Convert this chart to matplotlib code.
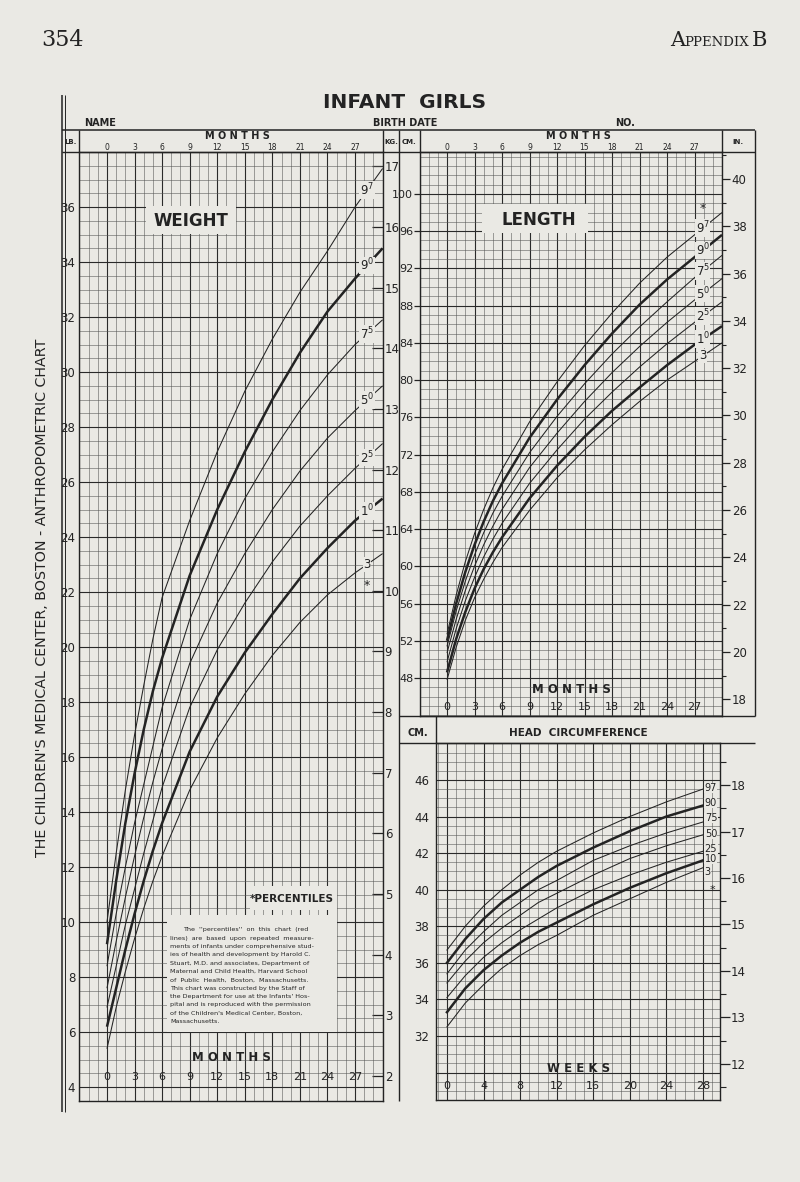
import numpy as np
import matplotlib.pyplot as plt
from matplotlib.patches import Rectangle
from matplotlib.ticker import MultipleLocator

plt.rcParams['font.family'] = ['DejaVu Sans']
plt.rcParams['mathtext.default'] = 'regular'

# percentile curves
pcts = [3, 10, 25, 50, 75, 90, 97]

# weight in lb by age in months
wt_age = [0, 1, 2, 3, 4, 5, 6, 9, 12, 15, 18, 21, 24, 27, 30]
wt_p3 = [5.4, 6.9, 8.2, 9.4, 10.5, 11.5, 12.4, 14.8, 16.7, 18.3, 19.7, 20.9, 21.9, 22.7, 23.4]
wt_p10 = [6.2, 7.6, 9.0, 10.3, 11.5, 12.6, 13.6, 16.2, 18.2, 19.8, 21.2, 22.5, 23.6, 24.6, 25.4]
wt_p25 = [6.9, 8.4, 9.9, 11.2, 12.5, 13.7, 14.9, 17.8, 19.9, 21.6, 23.1, 24.4, 25.5, 26.5, 27.4]
wt_p50 = [7.6, 9.3, 10.9, 12.4, 13.8, 15.1, 16.3, 19.4, 21.6, 23.4, 25.0, 26.4, 27.6, 28.6, 29.5]
wt_p75 = [8.4, 10.3, 12.0, 13.6, 15.0, 16.4, 17.8, 21.0, 23.4, 25.4, 27.1, 28.6, 29.9, 31.0, 31.9]
wt_p90 = [9.2, 11.5, 13.6, 15.4, 17.0, 18.4, 19.6, 22.6, 25.0, 27.1, 29.0, 30.7, 32.2, 33.4, 34.5]
wt_p97 = [10.0, 12.5, 14.8, 16.8, 18.6, 20.3, 21.8, 24.6, 27.1, 29.3, 31.2, 32.9, 34.4, 36.0, 37.4]
wt = [wt_p3, wt_p10, wt_p25, wt_p50, wt_p75, wt_p90, wt_p97]

# length in cm by age in months
ln_age = [0, 1, 2, 3, 4, 5, 6, 9, 12, 15, 18, 21, 24, 27, 30]
ln_p3 = [47.8, 51.3, 54.2, 56.6, 58.6, 60.4, 62.0, 66.0, 69.5, 72.5, 75.2, 77.7, 80.0, 82.0, 84.0]
ln_p10 = [48.6, 52.2, 55.1, 57.6, 59.7, 61.5, 63.1, 67.3, 70.8, 73.9, 76.7, 79.2, 81.6, 83.8, 85.8]
ln_p25 = [49.7, 53.3, 56.3, 58.8, 61.0, 62.9, 64.6, 68.9, 72.5, 75.8, 78.7, 81.4, 83.9, 86.2, 88.4]
ln_p50 = [50.7, 54.3, 57.4, 60.0, 62.3, 64.3, 66.1, 70.6, 74.3, 77.7, 80.8, 83.6, 86.2, 88.6, 90.9]
ln_p75 = [51.4, 55.2, 58.4, 61.2, 63.6, 65.7, 67.5, 72.2, 76.1, 79.6, 82.8, 85.7, 88.4, 91.0, 93.4]
ln_p90 = [52.0, 56.0, 59.4, 62.3, 64.8, 67.0, 68.9, 73.8, 77.9, 81.6, 85.0, 88.1, 90.8, 93.2, 95.6]
ln_p97 = [52.7, 56.9, 60.5, 63.5, 66.1, 68.4, 70.4, 75.5, 79.8, 83.7, 87.2, 90.4, 93.2, 95.6, 98.0]
ln = [ln_p3, ln_p10, ln_p25, ln_p50, ln_p75, ln_p90, ln_p97]

# head circumference in cm by age in weeks
hc_age = [0, 2, 4, 6, 8, 10, 12, 16, 20, 24, 28]
hc_p3 = [32.5, 33.8, 34.8, 35.7, 36.4, 37.0, 37.5, 38.6, 39.5, 40.4, 41.2]
hc_p10 = [33.3, 34.6, 35.6, 36.4, 37.1, 37.7, 38.2, 39.2, 40.1, 40.9, 41.6]
hc_p25 = [34.1, 35.3, 36.3, 37.1, 37.8, 38.4, 39.0, 40.0, 40.8, 41.5, 42.1]
hc_p50 = [34.9, 36.1, 37.1, 37.9, 38.6, 39.3, 39.8, 40.8, 41.7, 42.4, 43.0]
hc_p75 = [35.4, 36.7, 37.7, 38.6, 39.3, 40.0, 40.5, 41.6, 42.4, 43.1, 43.7]
hc_p90 = [36.0, 37.3, 38.4, 39.3, 40.0, 40.7, 41.3, 42.3, 43.2, 44.0, 44.6]
hc_p97 = [36.7, 38.0, 39.1, 40.0, 40.8, 41.5, 42.1, 43.1, 44.0, 44.8, 45.5]
hc = [hc_p3, hc_p10, hc_p25, hc_p50, hc_p75, hc_p90, hc_p97]
# where the printed percentile numbers sit at the right of the head chart (cm)
hc_label_at = [40.97, 41.68, 42.23, 43.05, 43.92, 44.74, 45.56]

sup_labels = ['3', '1$^{0}$', '2$^{5}$', '5$^{0}$', '7$^{5}$', '9$^{0}$', '9$^{7}$']
month_ticks = list(range(0, 28, 3))
week_ticks = list(range(0, 29, 4))

BG = '#eae9e4'
INK = '#232323'
W, H = 800, 1182

fig = plt.figure(figsize=(8, 11.82), dpi=100)
fig.patch.set_facecolor(BG)


def box(x0, y0, x1, y1, **kw):
    return fig.add_axes([x0 / W, 1 - y1 / H, (x1 - x0) / W, (y1 - y0) / H], **kw)


def paper(ax, xmin, ymin):
    ax.set_facecolor(BG)
    ax.xaxis.set_minor_locator(MultipleLocator(xmin))
    ax.yaxis.set_minor_locator(MultipleLocator(ymin))
    ax.grid(which='major', color='#2a2a2a', lw=0.8)
    ax.grid(which='minor', color='#555555', lw=0.38)
    ax.set_axisbelow(True)
    for s in ax.spines.values():
        s.set_color(INK)
        s.set_linewidth(1.0)
    ax.tick_params(which='both', bottom=False, top=False, labelbottom=False)
    ax.tick_params(which='minor', left=False, right=False)


def curves(ax, age, series):
    for p, vals in zip(pcts, series):
        lw = 1.8 if p in (10, 90) else 0.75
        ax.plot(age, vals, color=INK, lw=lw, zorder=3, solid_capstyle='butt')


def top_months(ax, ypix_from_top):
    frac = 1 + ypix_from_top / (ax.get_position().height * H)
    for m in month_ticks:
        ax.text(m, frac, str(m), transform=ax.get_xaxis_transform(), fontsize=5.5,
                ha='center', va='center', color=INK)


# ---------------- weight ----------------
ax_w = box(79.4, 152, 382.6, 1101)
ax_w.set_xlim(-3, 30)
ax_w.set_ylim(3.5, 38)
ax_w.set_xticks(range(-3, 31, 3))
ax_w.set_yticks(range(4, 37, 2))
paper(ax_w, 1, 0.5)
ax_w.tick_params(axis='y', length=0, pad=3, labelsize=8.5, colors=INK)
curves(ax_w, wt_age, wt)
for lab, vals in zip(sup_labels, wt):
    y = np.interp(28.3, wt_age, vals)
    ax_w.text(28.3, y, lab, fontsize=8.5, ha='center', va='center', color=INK, zorder=4,
              bbox=dict(fc=BG, ec='none', pad=0.4))
ax_w.text(28.3, np.interp(28.3, wt_age, wt_p3) - 0.75, '*', fontsize=9, ha='center',
          va='center', color=INK, zorder=4)
top_months(ax_w, 5)
for m in month_ticks:
    ax_w.text(m, 4.36, str(m), fontsize=8, ha='center', va='center', color=INK, zorder=4)
ax_w.text(13.5, 5.09, 'M O N T H S', fontsize=8.5, fontweight='bold', ha='center',
          va='center', color=INK, zorder=4)

kg = ax_w.secondary_yaxis('right', functions=(lambda v: v / 2.20462, lambda v: v * 2.20462))
kg.set_yticks(range(2, 18))
kg.tick_params(direction='in', length=8, width=0.9, pad=1.5, labelsize=8.5, colors=INK)
kg.spines['right'].set_visible(False)

# ---------------- length ----------------
ax_l = box(419.5, 152, 722, 716)
ax_l.set_xlim(-3, 30)
ax_l.set_ylim(43.92, 104.5)
ax_l.set_xticks(range(-3, 31, 3))
ax_l.set_yticks(range(48, 101, 4))
paper(ax_l, 1, 1)
ax_l.tick_params(axis='y', direction='out', length=4, width=0.9, pad=0.5, labelsize=8,
                 colors=INK)
curves(ax_l, ln_age, ln)
for lab, vals in zip(sup_labels, ln):
    y = np.interp(27.9, ln_age, vals)
    ax_l.text(27.9, y, lab, fontsize=8.5, ha='center', va='center', color=INK, zorder=4,
              bbox=dict(fc=BG, ec='none', pad=0.4))
ax_l.text(27.9, 98.4, '*', fontsize=9, ha='center', va='center', color=INK, zorder=4)
top_months(ax_l, 5)
for m in month_ticks:
    ax_l.text(m, 44.9, str(m), fontsize=8, ha='center', va='center', color=INK, zorder=4)
ax_l.text(13.6, 46.8, 'M O N T H S', fontsize=8.5, fontweight='bold', ha='center',
          va='center', color=INK, zorder=4)

inch = ax_l.secondary_yaxis('right', functions=(lambda v: v / 2.54, lambda v: v * 2.54))
inch.set_yticks(range(18, 41, 2))
inch.set_yticks(range(17, 42), minor=True)
inch.tick_params(direction='out', length=6, width=0.9, pad=1, labelsize=8.5, colors=INK)
inch.tick_params(which='minor', direction='out', length=3, width=0.8, colors=INK)
inch.spines['right'].set_visible(False)

# ---------------- head circumference ----------------
ax_h = box(436, 743, 720, 1100)
ax_h.set_xlim(-1.2, 29.87)
ax_h.set_ylim(28.5, 48.02)
ax_h.set_xticks(week_ticks)
ax_h.set_yticks(range(30, 47, 2), ['' if v == 30 else str(v) for v in range(30, 47, 2)])
paper(ax_h, 1, 0.5)
ax_h.tick_params(axis='y', length=0, pad=5, labelsize=8.5, colors=INK)
for p, vals, ylab in zip(pcts, hc, hc_label_at):
    lw = 1.8 if p in (10, 90) else 0.75
    ax_h.plot(hc_age, vals, color=INK, lw=lw, zorder=3)
    ax_h.text(28.2, ylab, str(p), fontsize=7, ha='left', va='center', color=INK,
              zorder=4, bbox=dict(fc=BG, ec='none', pad=0.2))
ax_h.text(29.0, 40.0, '*', fontsize=8, ha='center', va='center', color=INK, zorder=4)
for w in week_ticks:
    ax_h.text(w, 29.25, str(w), fontsize=8, ha='center', va='center', color=INK, zorder=4)
ax_h.text(14.4, 30.2, 'W E E K S', fontsize=8.5, fontweight='bold', ha='center',
          va='center', color=INK, zorder=4)

hin = ax_h.secondary_yaxis('right', functions=(lambda v: v / 2.54, lambda v: v * 2.54))
hin.set_yticks(range(12, 19))
hin.set_yticks(np.arange(11.5, 19, 1.0), minor=True)
hin.tick_params(direction='out', length=7, width=0.9, pad=1, labelsize=8.5, colors=INK)
hin.tick_params(which='minor', direction='out', length=4, width=0.8, colors=INK)
hin.spines['right'].set_visible(False)

# ---------------- page furniture ----------------
ov = box(0, 0, W, H, zorder=10)
ov.set_xlim(0, W)
ov.set_ylim(H, 0)
ov.axis('off')


def line(x0, y0, x1, y1, lw=1.0):
    ov.plot([x0, x1], [y0, y1], color=INK, lw=lw, solid_capstyle='butt')


line(61.5, 95, 61.5, 1112, 1.1)
line(64.5, 95, 64.5, 1112, 0.7)
line(62, 130, 755, 130, 1.1)
line(62, 152, 755, 152, 1.0)
for x in (79.4, 382.6, 419.5, 722):
    line(x, 130, x, 152)
line(399, 130, 399, 1101)
line(755, 130, 755, 716)
line(399, 716, 755, 716)
line(399, 743, 755, 743)
line(436, 716, 436, 743)

ov.add_patch(Rectangle((146, 206), 90, 28, fc=BG, ec='none'))
ov.text(191, 221, 'WEIGHT', fontsize=12, fontweight='bold', ha='center', va='center', color=INK)
ov.add_patch(Rectangle((482, 204), 106, 29, fc=BG, ec='none'))
ov.text(539, 220, 'LENGTH', fontsize=12, fontweight='bold', ha='center', va='center', color=INK)

ov.add_patch(Rectangle((250, 886), 87, 24, fc=BG, ec='none'))
ov.text(292, 899, '*PERCENTILES', fontsize=7.5, fontweight='bold', ha='center', va='center',
        color=INK)
ov.add_patch(Rectangle((167, 915), 170, 117, fc=BG, ec='none'))
para = [
    "The  ''percentiles''  on  this  chart  (red",
    "lines)  are  based  upon  repeated  measure-",
    "ments of infants under comprehensive stud-",
    "ies of health and development by Harold C.",
    "Stuart, M.D. and associates, Department of",
    "Maternal and Child Health, Harvard School",
    "of  Public  Health,  Boston,  Massachusetts.",
    "This chart was constructed by the Staff of",
    "the Department for use at the Infants' Hos-",
    "pital and is reproduced with the permission",
    "of the Children's Medical Center, Boston,",
    "Massachusetts.",
]
for i, s in enumerate(para):
    ov.text(183 if i == 0 else 170, 930 + 8.3 * i, s, fontsize=4.6, ha='left', va='center',
            color=INK)

ov.text(405, 103, 'INFANT  GIRLS', fontsize=14.5, fontweight='bold', ha='center',
        va='center', color=INK)
ov.text(84, 123, 'NAME', fontsize=7, fontweight='bold', ha='left', va='center', color=INK)
ov.text(373, 123, 'BIRTH DATE', fontsize=7, fontweight='bold', ha='left', va='center', color=INK)
ov.text(615, 123, 'NO.', fontsize=7, fontweight='bold', ha='left', va='center', color=INK)

ov.text(71, 142, 'LB.', fontsize=5, fontweight='bold', ha='center', va='center', color=INK)
ov.text(391, 142, 'KG.', fontsize=5, fontweight='bold', ha='center', va='center', color=INK)
ov.text(409, 142, 'CM.', fontsize=5, fontweight='bold', ha='center', va='center', color=INK)
ov.text(738, 142, 'IN.', fontsize=5, fontweight='bold', ha='center', va='center', color=INK)
ov.text(237, 136, 'M O N T H S', fontsize=7, fontweight='bold', ha='center', va='center', color=INK)
ov.text(578, 136, 'M O N T H S', fontsize=7, fontweight='bold', ha='center', va='center', color=INK)
ov.text(418, 733, 'CM.', fontsize=7, fontweight='bold', ha='center', va='center', color=INK)
ov.text(578, 733, 'HEAD  CIRCUMFERENCE', fontsize=7.5, ha='center', va='center', color=INK,
        fontweight='bold')

ov.text(42, 598, "THE CHILDREN'S MEDICAL CENTER, BOSTON - ANTHROPOMETRIC CHART",
        fontsize=10.3, rotation=90, ha='center', va='center', color=INK)

ov.text(41, 46, '354', fontsize=16, family='DejaVu Serif', ha='left', va='baseline', color=INK)
ov.text(670, 46, 'A', fontsize=15, family='DejaVu Serif', ha='left', va='baseline', color=INK)
ov.text(684, 46, 'PPENDIX', fontsize=9.5, family='DejaVu Serif', ha='left', va='baseline',
        color=INK)
ov.text(752, 46, 'B', fontsize=15, family='DejaVu Serif', ha='left', va='baseline', color=INK)

fig.savefig('out.png', dpi=100, facecolor=BG)
